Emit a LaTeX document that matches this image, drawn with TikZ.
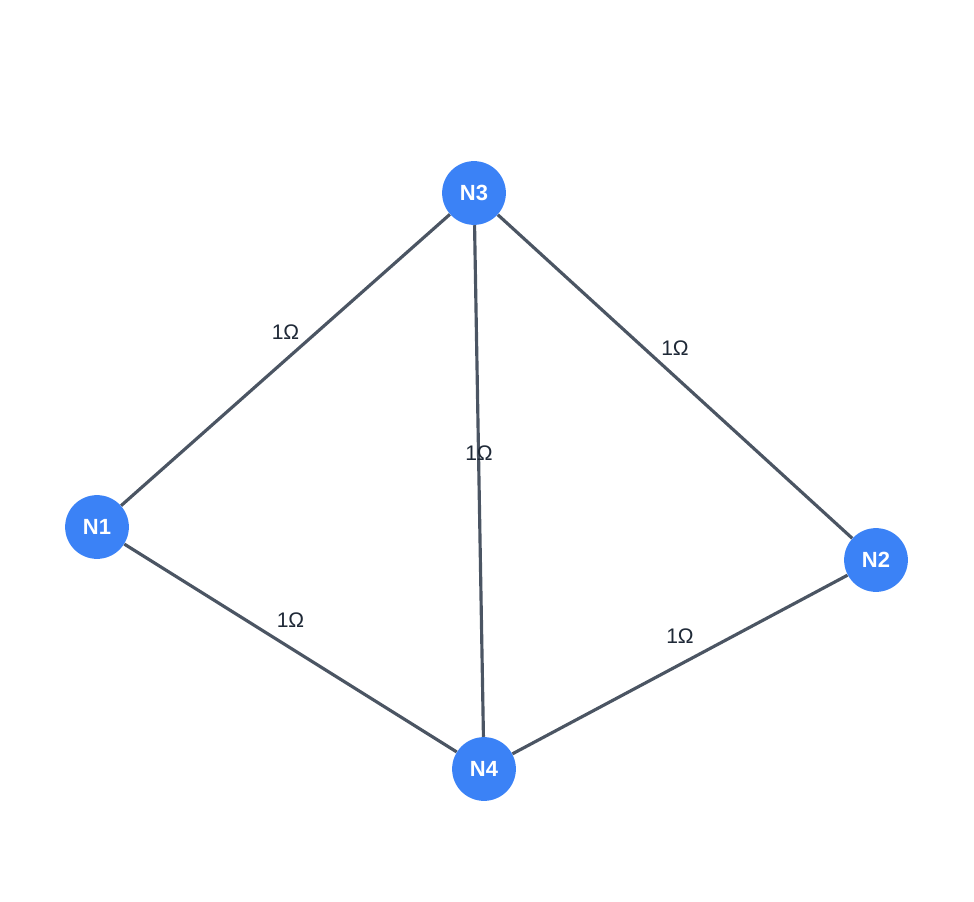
\documentclass[tikz,border=0pt]{standalone}
\usepackage{fontspec}
\setmainfont{Liberation Sans}
\definecolor{nodeblue}{HTML}{3B82F6}
\definecolor{wiregray}{HTML}{4B5563}
\definecolor{labelgray}{HTML}{1F2937}
\tikzset{
  junction/.style={circle, fill=nodeblue, minimum size=36.3pt, inner sep=0pt,
    text=white, font=\fontsize{12.5}{14}\selectfont\bfseries},
  wire/.style={wiregray, line width=1.8pt},
  ohms/.style={midway, yshift=16pt, text=labelgray, font=\fontsize{12}{14}\selectfont}
}
\begin{document}
\begin{tikzpicture}[x=0.02cm, y=-0.02cm]
    \useasboundingbox (0,0) rectangle (974,902);
    % Nodes
    \node[junction] (n3) at (474,193) {N3};
    \node[junction] (n1) at (97,527) {N1};
    \node[junction] (n2) at (876,560) {N2};
    \node[junction] (n4) at (484,769) {N4};

    % Resistors
    \draw[wire] (n1) -- (n3) node[ohms] {1Ω};
    \draw[wire] (n3) -- (n2) node[ohms] {1Ω};
    \draw[wire] (n3) -- (n4) node[ohms] {1Ω};
    \draw[wire] (n1) -- (n4) node[ohms] {1Ω};
    \draw[wire] (n4) -- (n2) node[ohms] {1Ω};
\end{tikzpicture}
\end{document}
